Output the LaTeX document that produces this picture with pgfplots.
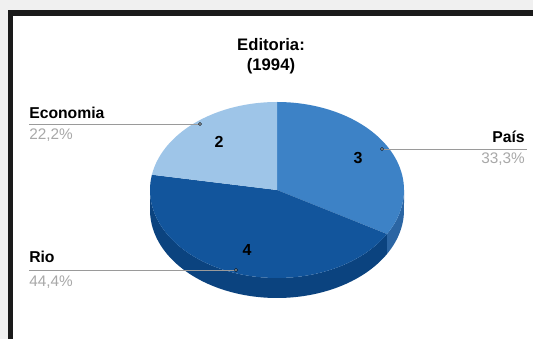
\documentclass[border=0pt]{standalone}
\usepackage{pgfplots}
\pgfplotsset{compat=1.18}
\usepackage{pgfplotstable}
\usepackage{fontspec}
\setmainfont{Liberation Sans}
\definecolor{cPais}{HTML}{3D82C6}
\definecolor{cRio}{HTML}{12559C}
\definecolor{cEco}{HTML}{9EC5E8}
\definecolor{sPais}{HTML}{2B65A3}
\definecolor{sRio}{HTML}{0B437F}
\definecolor{frameblk}{HTML}{1A1A1A}
\definecolor{outergray}{HTML}{F0F0F0}
\definecolor{pctgray}{HTML}{A8A8A8}
\definecolor{linegray}{HTML}{9A9A9A}

\pgfplotstableread{
label value
Pais 3
Rio 4
Economia 2
}\piedata
\pgfplotstablegetelem{0}{value}\of\piedata \edef\vP{\pgfplotsretval}
\pgfplotstablegetelem{1}{value}\of\piedata \edef\vR{\pgfplotsretval}
\pgfplotstablegetelem{2}{value}\of\piedata \edef\vE{\pgfplotsretval}
\pgfmathsetmacro\tot{\vP+\vR+\vE}
\pgfmathsetmacro\aA{360*\vP/\tot}
\pgfmathsetmacro\aB{\aA+360*\vR/\tot}
\def\cx{277}\def\cy{149}\def\rx{127}\def\ry{88}\def\dd{20}

\begin{document}
\begin{tikzpicture}
\begin{axis}[
  scale only axis, width=399.75pt, height=254.25pt,
  xmin=0, xmax=533, ymin=0, ymax=339,
  hide axis, clip=false,
  declare function={th(\t,\a,\b)=(\t<=1)*(\a+(\b-\a)*\t)+(\t>1)*(\b-(\b-\a)*(\t-1));},
]
% background / frame
\fill[outergray] (axis cs:0,0) rectangle (axis cs:533,339);
\fill[frameblk] (axis cs:8,0) rectangle (axis cs:533,329);
\fill[white] (axis cs:13,0) rectangle (axis cs:533,323);

% sides (visible lower half: 90..270)
\addplot[fill=sPais, draw=none, domain=0:2, samples=200, variable=\t]
  ({\cx+\rx*sin(th(\t,90,\aA))}, {\cy+\ry*cos(th(\t,90,\aA))-(\t>1)*\dd}) -- cycle;
\addplot[fill=sRio, draw=none, domain=0:2, samples=200, variable=\t]
  ({\cx+\rx*sin(th(\t,\aA,270))}, {\cy+\ry*cos(th(\t,\aA,270))-(\t>1)*\dd}) -- cycle;

% top faces
\addplot[fill=cPais, draw=none, domain=0:\aA, samples=80, variable=\t]
  ({\cx+\rx*sin(\t)}, {\cy+\ry*cos(\t)}) -- (axis cs:\cx,\cy) -- cycle;
\addplot[fill=cRio, draw=none, domain=\aA:\aB, samples=100, variable=\t]
  ({\cx+\rx*sin(\t)}, {\cy+\ry*cos(\t)}) -- (axis cs:\cx,\cy) -- cycle;
\addplot[fill=cEco, draw=none, domain=\aB:360, samples=60, variable=\t]
  ({\cx+\rx*sin(\t)}, {\cy+\ry*cos(\t)}) -- (axis cs:\cx,\cy) -- cycle;

% leader lines
\addplot[linegray, line width=0.6pt] coordinates {(29,215) (200,215)};
\addplot[linegray, line width=0.6pt] coordinates {(29,69) (236,69)};
\addplot[linegray, line width=0.6pt] coordinates {(382,190) (527,190)};
\addplot[only marks, mark=*, mark size=1.1pt, mark options={draw=none, fill=white!70!cEco}] coordinates {(200,215) (236,69) (382,190)};

% title
\node[align=center, font=\fontsize{12.5}{15}\selectfont\bfseries] at (axis cs:271,283) {Editoria:\\(1994)};

% slice values
\node[font=\fontsize{12}{14}\selectfont\bfseries] at (axis cs:358,181) {3};
\node[font=\fontsize{12}{14}\selectfont\bfseries] at (axis cs:219,197) {2};
\node[font=\fontsize{12}{14}\selectfont\bfseries] at (axis cs:247,89) {4};

% outside labels
\node[anchor=base west, inner sep=0pt, font=\fontsize{11.8}{13}\selectfont\bfseries] at (axis cs:29,220) {Economia};
\node[anchor=base west, inner sep=0pt, text=pctgray, font=\fontsize{11.5}{13}\selectfont] at (axis cs:29,199) {22,2\%};
\node[anchor=base west, inner sep=0pt, font=\fontsize{11.8}{13}\selectfont\bfseries] at (axis cs:29,76) {Rio};
\node[anchor=base west, inner sep=0pt, text=pctgray, font=\fontsize{11.5}{13}\selectfont] at (axis cs:29,52) {44,4\%};
\node[anchor=base east, inner sep=0pt, font=\fontsize{11.8}{13}\selectfont\bfseries] at (axis cs:525,196) {País};
\node[anchor=base east, inner sep=0pt, text=pctgray, font=\fontsize{11.5}{13}\selectfont] at (axis cs:525,175) {33,3\%};
\end{axis}
\end{tikzpicture}
\end{document}
